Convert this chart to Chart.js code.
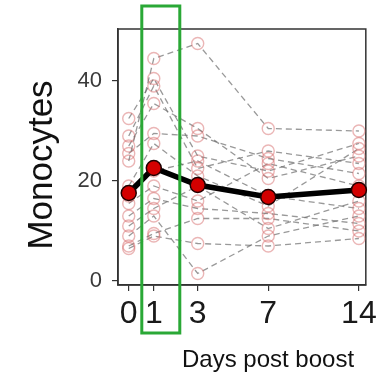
<!DOCTYPE html>
<html>
<head>
<meta charset="utf-8">
<script src="https://cdn.jsdelivr.net/npm/chart.js@4.4.1/dist/chart.umd.min.js"></script>
<style>
    body { margin: 0; background: #fff; }
    #wrap { width: 381px; height: 373px; position: relative; }
</style>
</head>
<body>
<div id="wrap"><canvas id="monoChart"></canvas></div>
<script>
// Days post boost
const days = [0, 1, 3, 7, 14];

// One row per subject: values at day 0, 1, 3, 7, 14
const subj01 = [24, 44.5, 47.5, 30.5, 30];
const subj02 = [32.5, 40.5, 25, 22, 27.5];
const subj03 = [29, 39, 22.5, 26, 23.5];
const subj04 = [27, 35.5, 30.5, 20.5, 25];
const subj05 = [25.5, 29.5, 29, 24.5, 21.5];
const subj06 = [19, 27.5, 21, 15, 26.5];
const subj07 = [17, 22, 24, 17, 14.5];
const subj08 = [15.5, 19, 16, 23.5, 19];
const subj09 = [13, 16.5, 14.5, 13.5, 11.5];
const subj10 = [11, 14.5, 19, 10.5, 16];
const subj11 = [9, 13, 1.5, 9, 13];
const subj12 = [7, 9.5, 12.5, 12.5, 10];
const subj13 = [6.5, 9, 7.5, 7, 8.5];

// Group mean
const meanValues = [17.6, 22.6, 19.2, 16.8, 18.2];

const yTicks = [0, 20, 40];

const subjects = [subj01, subj02, subj03, subj04, subj05, subj06, subj07,
    subj08, subj09, subj10, subj11, subj12, subj13];

// x axis is log(day + offset) like the original figure
const DAY_OFFSET = 10;
const toPoints = (vals) => vals.map((v, i) => ({ x: days[i] + DAY_OFFSET, y: v }));

const FONT = "'Liberation Sans', Arial, sans-serif";

const subjectSets = subjects.map(vals => ({
    data: toPoints(vals),
    borderColor: 'rgba(110, 110, 110, 0.7)',
    borderWidth: 1.3,
    borderDash: [6, 4],
    pointRadius: 6,
    pointBorderWidth: 1.4,
    pointBorderColor: 'rgba(215, 110, 110, 0.5)',
    pointBackgroundColor: 'rgba(255, 255, 255, 0)',
    clip: false,
    order: 1
}));

const meanSet = {
    data: toPoints(meanValues),
    borderColor: '#000',
    borderWidth: 5.5,
    pointRadius: 7.5,
    pointBorderWidth: 1.5,
    pointBorderColor: '#200000',
    pointBackgroundColor: '#d30000',
    clip: false,
    order: 0
};

// Box around the plot area, drawn under the points
const frame = {
    id: 'frame',
    beforeDatasetsDraw(chart) {
        const { ctx, chartArea: a } = chart;
        ctx.save();
        ctx.strokeStyle = '#333';
        ctx.lineWidth = 1.5;
        ctx.strokeRect(a.left, a.top, a.right - a.left, a.bottom - a.top);
        ctx.restore();
    }
};

// axis titles + green highlight box around day 1
const extras = {
    id: 'extras',
    afterDraw(chart) {
        const { ctx } = chart;
        const x1 = chart.scales.x.getPixelForValue(1 + DAY_OFFSET);
        ctx.save();
        ctx.strokeStyle = '#2aa836';
        ctx.lineWidth = 3;
        ctx.strokeRect(x1 - 12, 6, 38, 327);

        ctx.fillStyle = '#111';
        ctx.font = '24px ' + FONT;
        ctx.textAlign = 'center';
        ctx.textBaseline = 'alphabetic';
        ctx.fillText('Days post boost', 268, 367);

        ctx.translate(52, 165);
        ctx.rotate(-Math.PI / 2);
        ctx.font = '35px ' + FONT;
        ctx.fillText('Monocytes', 0, 0);
        ctx.restore();
    }
};

new Chart(document.getElementById('monoChart'), {
    type: 'line',
    data: { datasets: [meanSet, ...subjectSets] },
    options: {
        responsive: true,
        maintainAspectRatio: false,
        animation: false,
        layout: { padding: { top: 29, right: 11, left: 0, bottom: 0 } },
        plugins: {
            legend: { display: false },
            tooltip: { enabled: false }
        },
        scales: {
            x: {
                type: 'logarithmic',
                min: 9.6,
                max: 24.64,
                afterBuildTicks: (s) => { s.ticks = days.map(d => ({ value: d + DAY_OFFSET })); },
                afterFit: (s) => { s.height = 88; },
                grid: { drawOnChartArea: false, tickLength: 6, color: '#333', lineWidth: 1.2 },
                border: { display: true, color: '#333', width: 1.5 },
                ticks: {
                    autoSkip: false,
                    maxRotation: 0,
                    minRotation: 0,
                    padding: 4,
                    color: '#1a1a1a',
                    font: { family: FONT, size: 32 },
                    callback: (v) => String(Math.round(v - DAY_OFFSET))
                }
            },
            y: {
                type: 'linear',
                min: -0.8,
                max: 50.4,
                afterBuildTicks: (s) => { s.ticks = yTicks.map(v => ({ value: v })); },
                afterFit: (s) => { s.width = 118; },
                grid: { drawOnChartArea: false, tickLength: 6, color: '#333', lineWidth: 1.2 },
                border: { display: true, color: '#333', width: 1.5 },
                ticks: {
                    padding: 10,
                    color: '#3a3a3a',
                    font: { family: FONT, size: 22 }
                }
            }
        }
    },
    plugins: [frame, extras]
});
</script>
</body>
</html>
